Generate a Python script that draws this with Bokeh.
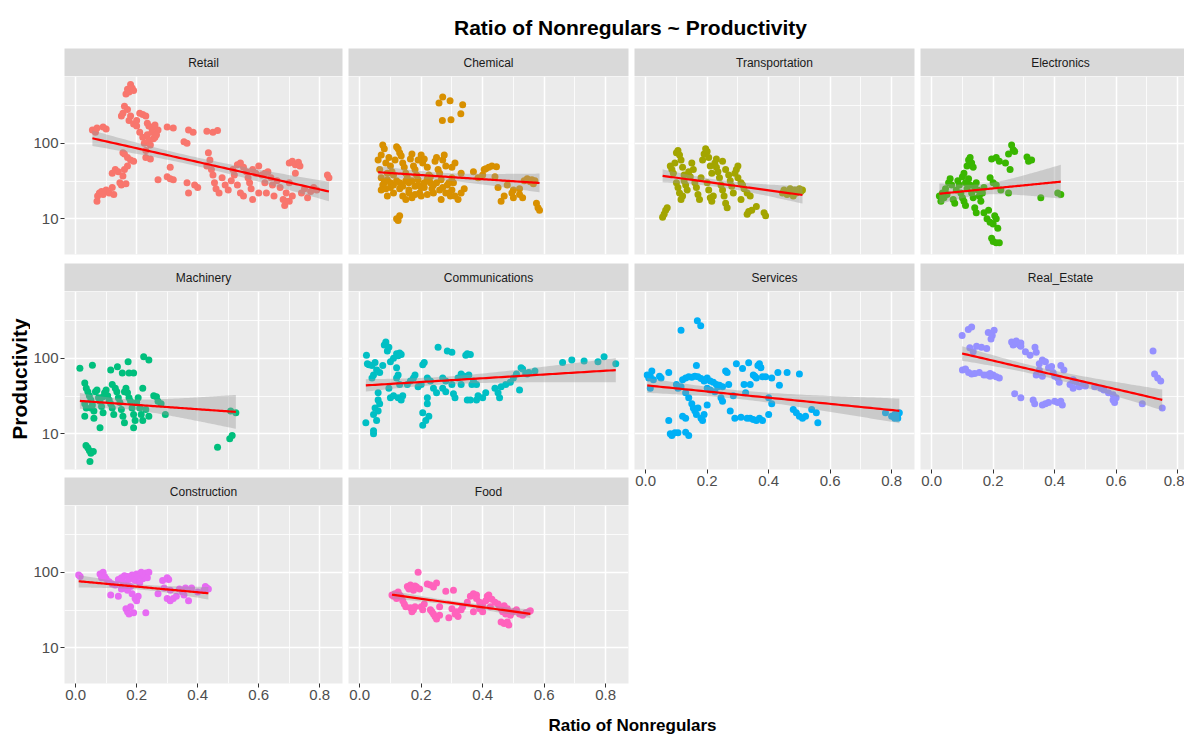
import math
import numpy as np
from bokeh.plotting import figure
from bokeh.layouts import row, column
from bokeh.models import FixedTicker, PrintfTickFormatter, Range1d, Grid
from bokeh.core.properties import value
from bokeh.embed import file_html
from bokeh.resources import INLINE

TITLE = "Ratio of Nonregulars ~ Productivity"
X_LABEL = "Ratio of Nonregulars"
Y_LABEL = "Productivity"

industries = ["Retail", "Chemical", "Transportation", "Electronics", "Machinery",
              "Communications", "Services", "Real_Estate", "Construction", "Food"]
colors = ["#F8766D", "#D89000", "#A3A500", "#39B600", "#00BF7D",
          "#00BFC4", "#00B0F6", "#9590FF", "#E76BF3", "#FF62BC"]
x_ticks = [0.0, 0.2, 0.4, 0.6, 0.8]
x_minor = [0.1, 0.3, 0.5, 0.7]
y_ticks = [10, 100]
y_minor = [31.62, 316.2]

# (ratio of nonregulars, productivity)
retail_points = [
    (0.055, 150), (0.065, 140), (0.07, 160), (0.09, 165), (0.1, 155),
    (0.07, 17), (0.072, 20), (0.078, 22), (0.085, 23), (0.09, 21), (0.1, 24), (0.11, 22), (0.12, 26), (0.125, 21),
    (0.12, 40), (0.13, 45), (0.14, 42), (0.145, 30), (0.15, 28), (0.16, 45), (0.165, 29), (0.17, 50), (0.155, 37),
    (0.155, 75), (0.16, 72), (0.17, 65), (0.18, 60), (0.19, 58),
    (0.165, 450), (0.17, 520), (0.175, 480), (0.18, 600), (0.185, 540), (0.19, 500),
    (0.15, 230), (0.155, 250), (0.16, 310), (0.17, 280), (0.175, 200), (0.18, 230), (0.19, 180), (0.2, 200), (0.2, 170),
    (0.21, 250), (0.22, 240), (0.23, 230), (0.235, 185), (0.24, 170), (0.25, 160), (0.26, 175), (0.27, 150),
    (0.21, 140), (0.22, 120), (0.225, 100), (0.23, 80), (0.235, 130), (0.24, 110), (0.245, 95), (0.25, 140),
    (0.255, 115), (0.26, 120), (0.265, 130), (0.23, 65), (0.245, 62),
    (0.27, 33), (0.3, 36), (0.31, 34), (0.32, 33), (0.3, 165), (0.32, 160), (0.31, 48),
    (0.355, 105), (0.365, 100), (0.37, 150), (0.385, 140), (0.43, 145), (0.45, 140), (0.465, 148),
    (0.365, 30), (0.37, 22), (0.39, 28), (0.4, 26),
    (0.435, 75), (0.44, 60), (0.445, 45), (0.45, 38), (0.455, 30), (0.46, 25), (0.47, 22), (0.48, 35),
    (0.49, 28), (0.5, 24), (0.51, 32), (0.515, 45), (0.52, 38), (0.43, 50),
    (0.53, 52), (0.54, 55), (0.55, 48), (0.56, 42), (0.565, 35), (0.57, 30), (0.575, 25), (0.58, 45),
    (0.59, 40), (0.6, 50), (0.61, 38), (0.62, 30), (0.625, 22), (0.63, 42), (0.64, 35), (0.645, 28),
    (0.65, 20), (0.66, 32), (0.67, 26), (0.68, 18), (0.69, 22), (0.7, 30), (0.55, 20), (0.6, 22),
    (0.58, 18), (0.62, 40), (0.53, 28), (0.54, 22),
    (0.7, 55), (0.71, 58), (0.72, 52), (0.73, 56), (0.735, 50), (0.72, 40),
    (0.7, 17), (0.71, 20), (0.74, 22), (0.75, 25), (0.77, 23), (0.78, 26), (0.79, 24), (0.76, 19),
    (0.825, 38), (0.83, 35), (0.685, 15), (0.69, 17),
]

chemical_points = [
    (0.258, 341), (0.27, 410), (0.294, 367), (0.335, 324), (0.329, 246), (0.269, 200), (0.297, 205),
    (0.06, 60), (0.065, 45), (0.07, 70), (0.075, 95), (0.08, 85), (0.085, 55), (0.09, 40), (0.095, 65),
    (0.07, 35), (0.075, 28), (0.08, 30), (0.085, 25), (0.09, 33), (0.1, 50), (0.105, 42), (0.11, 38),
    (0.115, 60), (0.12, 90), (0.125, 85), (0.13, 75), (0.135, 68), (0.14, 55), (0.145, 48), (0.15, 40),
    (0.155, 35), (0.16, 30), (0.165, 62), (0.17, 72), (0.175, 50), (0.18, 45), (0.185, 38), (0.19, 28),
    (0.195, 22), (0.2, 20), (0.13, 25), (0.14, 20), (0.15, 18), (0.16, 24), (0.12, 10), (0.125, 9.5),
    (0.13, 11), (0.205, 55), (0.21, 62), (0.22, 48), (0.225, 38), (0.23, 30), (0.235, 25), (0.24, 22),
    (0.245, 58), (0.25, 65), (0.255, 45), (0.26, 40), (0.265, 33), (0.27, 60), (0.28, 50), (0.285, 28),
    (0.29, 22), (0.295, 20), (0.3, 35), (0.305, 30), (0.31, 55), (0.3, 48), (0.275, 70), (0.2, 70),
    (0.19, 60), (0.1, 30), (0.11, 22), (0.17, 32), (0.18, 27), (0.21, 26), (0.22, 21), (0.26, 24), (0.265, 18),
    (0.07, 24), (0.09, 20), (0.1, 26), (0.11, 28), (0.12, 32), (0.13, 30), (0.14, 27), (0.15, 32),
    (0.16, 22), (0.17, 19), (0.18, 21), (0.19, 33), (0.2, 26), (0.21, 30), (0.22, 34), (0.23, 36),
    (0.24, 28), (0.25, 30), (0.27, 26), (0.28, 22), (0.3, 24), (0.31, 20), (0.29, 30),
    (0.33, 40), (0.37, 42), (0.385, 35), (0.4, 38), (0.405, 45), (0.41, 46), (0.42, 48), (0.43, 50),
    (0.445, 49), (0.44, 36), (0.48, 28), (0.5, 24), (0.495, 22), (0.47, 20), (0.5, 19), (0.52, 25),
    (0.535, 32), (0.545, 34), (0.555, 31), (0.56, 33), (0.565, 29), (0.57, 32), (0.575, 16), (0.58, 14),
    (0.585, 13), (0.33, 22), (0.34, 25), (0.32, 18), (0.52, 21), (0.53, 19), (0.46, 17), (0.45, 26),
]

transportation_points = [
    (0.055, 10.5), (0.06, 11.5), (0.065, 13), (0.07, 14), (0.08, 50), (0.085, 45), (0.09, 40), (0.095, 55),
    (0.1, 75), (0.105, 80), (0.11, 70), (0.115, 60), (0.12, 48), (0.125, 38), (0.1, 30), (0.105, 26),
    (0.11, 22), (0.115, 18), (0.12, 20), (0.125, 32), (0.13, 28), (0.135, 24), (0.14, 42), (0.145, 36),
    (0.15, 55), (0.155, 45), (0.16, 30), (0.165, 26), (0.17, 21), (0.175, 18), (0.18, 35), (0.185, 60),
    (0.19, 72), (0.195, 85), (0.2, 78), (0.205, 65), (0.21, 50), (0.215, 40), (0.2, 30), (0.205, 24),
    (0.21, 19), (0.215, 17), (0.22, 20), (0.225, 55), (0.23, 48), (0.235, 42), (0.24, 35), (0.245, 28),
    (0.25, 24), (0.255, 20), (0.26, 16), (0.265, 14), (0.23, 62), (0.25, 58), (0.26, 45), (0.27, 38),
    (0.275, 32), (0.28, 27), (0.285, 22), (0.29, 40), (0.3, 35), (0.31, 30), (0.315, 28), (0.32, 25),
    (0.33, 22), (0.34, 20), (0.31, 18), (0.295, 45), (0.3, 50), (0.33, 11.5), (0.335, 12.5), (0.345, 13),
    (0.36, 14.5), (0.385, 12), (0.39, 11),
    (0.445, 22), (0.45, 24), (0.46, 21), (0.47, 25), (0.475, 23), (0.48, 20), (0.485, 24), (0.49, 22),
    (0.5, 25), (0.505, 23), (0.51, 24),
]

electronics_points = [
    (0.025, 20), (0.03, 17), (0.035, 22), (0.04, 19), (0.045, 25), (0.05, 21), (0.055, 30), (0.06, 34),
    (0.065, 28), (0.07, 18), (0.075, 16), (0.08, 24), (0.085, 32), (0.09, 28), (0.095, 22), (0.1, 36),
    (0.105, 40), (0.11, 30), (0.1, 19), (0.105, 17), (0.11, 15), (0.115, 25), (0.12, 34), (0.125, 28),
    (0.13, 22), (0.135, 19), (0.14, 14), (0.145, 12), (0.115, 50), (0.12, 60), (0.125, 65), (0.13, 55),
    (0.135, 48), (0.14, 26), (0.145, 30), (0.15, 24), (0.155, 20), (0.16, 17), (0.165, 22), (0.17, 26),
    (0.195, 62), (0.21, 65), (0.22, 58), (0.24, 55), (0.25, 72), (0.26, 95), (0.265, 82), (0.27, 78),
    (0.255, 45), (0.31, 66), (0.315, 58), (0.325, 60),
    (0.17, 12), (0.18, 10), (0.19, 9), (0.2, 8.5), (0.205, 11), (0.21, 10), (0.215, 7.5), (0.195, 5.5),
    (0.2, 5.0), (0.21, 4.8), (0.22, 4.8), (0.185, 13),
    (0.2, 30), (0.21, 28), (0.225, 24), (0.25, 22), (0.19, 35),
    (0.355, 19), (0.41, 22), (0.42, 21),
]

machinery_points = [
    (0.014, 74), (0.055, 81), (0.03, 47), (0.035, 40), (0.04, 36), (0.045, 32), (0.03, 25), (0.035, 22),
    (0.03, 17), (0.05, 28), (0.055, 24), (0.06, 20), (0.065, 36), (0.07, 38), (0.075, 30), (0.08, 27),
    (0.085, 23), (0.09, 19), (0.08, 12), (0.095, 35), (0.1, 38), (0.105, 32), (0.11, 28), (0.115, 25),
    (0.12, 22), (0.125, 18), (0.115, 70), (0.137, 77), (0.153, 64), (0.175, 64), (0.19, 64), (0.172, 90),
    (0.223, 105), (0.24, 95), (0.13, 40), (0.135, 36), (0.14, 30), (0.145, 26), (0.15, 21), (0.155, 17),
    (0.16, 14), (0.165, 40), (0.17, 35), (0.175, 30), (0.18, 27), (0.185, 22), (0.19, 18), (0.195, 15),
    (0.2, 26), (0.205, 30), (0.21, 22), (0.215, 18), (0.22, 15), (0.19, 12), (0.23, 21), (0.24, 17),
    (0.256, 32), (0.265, 31), (0.27, 27), (0.28, 25), (0.294, 18), (0.22, 40), (0.16, 36), (0.09, 31),
    (0.05, 22), (0.12, 45), (0.06, 16),
    (0.034, 7), (0.04, 6.5), (0.045, 6), (0.05, 5.5), (0.058, 5.8), (0.047, 4.3),
    (0.465, 6.6), (0.505, 8.6), (0.513, 9.5), (0.508, 20), (0.525, 19),
]

communications_points = [
    (0.022, 110), (0.025, 85), (0.03, 82), (0.04, 80), (0.045, 60), (0.04, 55), (0.05, 88), (0.055, 70),
    (0.065, 65), (0.075, 80), (0.08, 150), (0.085, 165), (0.09, 125), (0.095, 140), (0.1, 90), (0.11, 100),
    (0.12, 115), (0.125, 108), (0.13, 118), (0.135, 112), (0.12, 75), (0.125, 60), (0.12, 55), (0.13, 45),
    (0.095, 40), (0.1, 30), (0.11, 32), (0.125, 30), (0.135, 28), (0.14, 32), (0.06, 35), (0.06, 28),
    (0.05, 22), (0.045, 18), (0.055, 15), (0.02, 14), (0.045, 11), (0.045, 10), (0.06, 20), (0.065, 25),
    (0.155, 45), (0.165, 50), (0.175, 55), (0.18, 60), (0.19, 42), (0.2, 45), (0.205, 82), (0.21, 88),
    (0.22, 55), (0.23, 50), (0.24, 40), (0.22, 30), (0.22, 25), (0.205, 19), (0.205, 13), (0.215, 15),
    (0.225, 17), (0.25, 35), (0.255, 140), (0.27, 40), (0.27, 55), (0.28, 50), (0.28, 36), (0.285, 125),
    (0.3, 120), (0.3, 45), (0.305, 34), (0.31, 30), (0.32, 55), (0.33, 45), (0.345, 110), (0.35, 115),
    (0.36, 112), (0.33, 62), (0.34, 58), (0.355, 60), (0.365, 45), (0.37, 50), (0.38, 45), (0.35, 28),
    (0.36, 28), (0.38, 28), (0.385, 32), (0.4, 30), (0.41, 35),
    (0.44, 40), (0.45, 35), (0.455, 30), (0.46, 42), (0.475, 45), (0.49, 48), (0.5, 55), (0.51, 62),
    (0.52, 38), (0.525, 75), (0.53, 72), (0.54, 63), (0.545, 62), (0.55, 65), (0.57, 68), (0.66, 88),
    (0.69, 95), (0.73, 92), (0.775, 90), (0.795, 105), (0.833, 85),
]

services_points = [
    (0.005, 60), (0.01, 55), (0.015, 58), (0.02, 68), (0.025, 52), (0.045, 58), (0.05, 55), (0.075, 65),
    (0.015, 40), (0.1, 45), (0.105, 40), (0.115, 42), (0.12, 52), (0.13, 55), (0.14, 57), (0.15, 56),
    (0.16, 58), (0.17, 57), (0.18, 54), (0.19, 50), (0.2, 55), (0.21, 50), (0.22, 48), (0.23, 45),
    (0.24, 44), (0.25, 42), (0.165, 80), (0.115, 236), (0.168, 315), (0.179, 270),
    (0.13, 35), (0.14, 30), (0.15, 25), (0.155, 22), (0.16, 20), (0.165, 18), (0.17, 22), (0.18, 16),
    (0.185, 15), (0.19, 18), (0.2, 24), (0.075, 15), (0.12, 17), (0.13, 16), (0.08, 10), (0.085, 9.5),
    (0.095, 10.3), (0.105, 10.3), (0.13, 10.5), (0.14, 9.5),
    (0.2, 40), (0.21, 38), (0.225, 36), (0.235, 42), (0.245, 30), (0.25, 27), (0.26, 68), (0.265, 65),
    (0.27, 45), (0.275, 20), (0.285, 32), (0.295, 85), (0.315, 73), (0.32, 45), (0.325, 35), (0.335, 87),
    (0.34, 45), (0.35, 60), (0.355, 58), (0.36, 55), (0.365, 80), (0.37, 85), (0.375, 75), (0.38, 57),
    (0.39, 57), (0.4, 30), (0.41, 25), (0.33, 16), (0.34, 16), (0.35, 15.5), (0.36, 15), (0.37, 16),
    (0.38, 15), (0.29, 16), (0.31, 16.5), (0.4, 18),
    (0.41, 55), (0.43, 65), (0.435, 44), (0.46, 65), (0.5, 62), (0.48, 21), (0.49, 19), (0.5, 17),
    (0.51, 16), (0.52, 17), (0.54, 21), (0.555, 19), (0.56, 14),
    (0.78, 19), (0.8, 17), (0.81, 16), (0.815, 17.5), (0.82, 18), (0.825, 19), (0.82, 16), (0.81, 18),
]

real_estate_points = [
    (0.099, 200), (0.119, 240), (0.13, 260), (0.124, 138), (0.146, 145), (0.135, 122), (0.162, 140),
    (0.179, 135), (0.184, 220), (0.193, 180), (0.203, 235), (0.197, 200),
    (0.1, 70), (0.11, 72), (0.12, 65), (0.13, 62), (0.14, 63), (0.155, 65), (0.17, 60), (0.18, 60),
    (0.19, 58), (0.2, 60), (0.21, 57), (0.22, 55), (0.19, 63),
    (0.26, 165), (0.265, 150), (0.27, 155), (0.275, 170), (0.28, 160), (0.285, 150), (0.29, 160), (0.29, 145),
    (0.305, 122), (0.32, 110), (0.336, 140), (0.34, 120),
    (0.27, 34), (0.29, 30), (0.33, 28), (0.335, 25), (0.36, 24), (0.37, 25), (0.38, 26), (0.4, 27),
    (0.41, 26), (0.42, 27), (0.425, 24),
    (0.34, 60), (0.35, 85), (0.36, 95), (0.37, 90), (0.38, 75), (0.39, 78), (0.395, 65), (0.4, 58),
    (0.41, 55), (0.42, 80), (0.43, 70), (0.415, 48), (0.35, 70), (0.36, 58),
    (0.45, 45), (0.46, 52), (0.47, 48), (0.48, 42), (0.49, 44), (0.5, 43), (0.46, 40),
    (0.53, 42), (0.55, 40), (0.56, 38), (0.575, 35), (0.59, 33), (0.59, 28), (0.595, 26), (0.6, 30),
    (0.685, 25), (0.72, 125), (0.725, 62), (0.735, 55), (0.745, 50), (0.75, 22),
]

construction_points = [
    (0.01, 92), (0.015, 88), (0.08, 95), (0.09, 100), (0.085, 85), (0.095, 88), (0.1, 82),
    (0.11, 75), (0.12, 70), (0.13, 68), (0.115, 50), (0.14, 48),
    (0.14, 80), (0.15, 85), (0.155, 75), (0.16, 90), (0.165, 70), (0.17, 88), (0.175, 80), (0.18, 65),
    (0.185, 92), (0.19, 85), (0.195, 78), (0.2, 95), (0.205, 88), (0.21, 72), (0.215, 100), (0.22, 82),
    (0.225, 90), (0.23, 98), (0.235, 85), (0.24, 100), (0.16, 62), (0.17, 58), (0.15, 60),
    (0.165, 33), (0.17, 30), (0.175, 28), (0.18, 35), (0.185, 52), (0.195, 45), (0.2, 42), (0.205, 48),
    (0.19, 29), (0.23, 29),
    (0.27, 52), (0.285, 78), (0.29, 62), (0.3, 85), (0.305, 80), (0.31, 58), (0.3, 45), (0.31, 42),
    (0.32, 45), (0.33, 48),
    (0.34, 60), (0.35, 55), (0.355, 50), (0.36, 62), (0.37, 42), (0.38, 62), (0.4, 55), (0.42, 58),
    (0.425, 65), (0.43, 62), (0.435, 60),
]

food_points = [
    (0.105, 50), (0.11, 48), (0.115, 52), (0.12, 45), (0.125, 55), (0.13, 50), (0.135, 47), (0.14, 42),
    (0.145, 38), (0.15, 35), (0.155, 65), (0.16, 60), (0.165, 68), (0.17, 62), (0.175, 58), (0.18, 66),
    (0.185, 64), (0.19, 100), (0.195, 60), (0.2, 35), (0.205, 32), (0.21, 38), (0.165, 34), (0.17, 30),
    (0.175, 32), (0.18, 35), (0.22, 70), (0.23, 68), (0.24, 64), (0.25, 72), (0.23, 32), (0.235, 30),
    (0.24, 28), (0.245, 26), (0.25, 24), (0.26, 27), (0.26, 35), (0.28, 56), (0.29, 25), (0.305, 58),
    (0.3, 33), (0.31, 28), (0.315, 30), (0.32, 26), (0.33, 32), (0.335, 35),
    (0.36, 48), (0.37, 52), (0.38, 50), (0.38, 45), (0.39, 40), (0.4, 38), (0.41, 42), (0.415, 48),
    (0.42, 50), (0.425, 35), (0.43, 44), (0.44, 40), (0.45, 38), (0.455, 35), (0.46, 33), (0.465, 30),
    (0.47, 36), (0.475, 28), (0.48, 33), (0.485, 30), (0.49, 27), (0.46, 22), (0.47, 21), (0.48, 22),
    (0.485, 20), (0.5, 30), (0.51, 32), (0.52, 28), (0.53, 27), (0.54, 29), (0.55, 30), (0.555, 31),
    (0.37, 30), (0.39, 33), (0.4, 30), (0.35, 40),
]

panel_data = [retail_points, chemical_points, transportation_points, electronics_points,
              machinery_points, communications_points, services_points, real_estate_points,
              construction_points, food_points]

# ---------------------------------------------------------------- layout / style
FONT = "Liberation Sans"
PANEL_BG = "#EBEBEB"
STRIP_BG = "#D9D9D9"
TOTAL_W = 1184
YLAB_W = 30
FRAME_W = 280
FRAME_H = 178
STRIP_H = 28
LEFT_AXIS = 32
GAP = 6
NCOL = 4
LAST_W = TOTAL_W - YLAB_W - LEFT_AXIS - 3 * (FRAME_W + GAP)   # right column cut by the edge
ROW_GAPS = [9, 8]
AXIS_H = 26
TITLE_H = 48
XLAB_H = 25

# shared scales (ggplot: range of all data + 5% expansion)
all_x = [pt[0] for pts in panel_data for pt in pts]
all_y = [math.log10(pt[1]) for pts in panel_data for pt in pts]
xpad = 0.05 * (max(all_x) - min(all_x))
X_START, X_END = min(all_x) - xpad, max(all_x) + xpad
ypad = 0.05 * (max(all_y) - min(all_y))
Y_START, Y_END = 10 ** (min(all_y) - ypad), 10 ** (max(all_y) + ypad)

n = len(industries)
bottom_of_col = {}
for i in range(n):
    bottom_of_col[i % NCOL] = i


def col_geom(col):
    left = LEFT_AXIS if col == 0 else 0
    right = GAP if col < NCOL - 1 else 0
    fw = FRAME_W if col < NCOL - 1 else LAST_W
    return left, right, fw


def style_axis(ax):
    ax.axis_line_color = None
    ax.major_tick_line_color = "#333333"
    ax.major_tick_out = 4
    ax.major_tick_in = 0
    ax.minor_tick_line_color = None
    ax.major_label_text_font = FONT
    ax.major_label_text_font_size = "15px"
    ax.major_label_text_color = "#4D4D4D"
    ax.major_label_standoff = 2


def bare_figure(w, h, **kw):
    f = figure(width=w, height=h, output_backend="svg", toolbar_location=None,
               x_axis_location=None, y_axis_location=None,
               min_border_top=0, min_border_bottom=0,
               border_fill_color="white", outline_line_color=None, **kw)
    f.grid.visible = False
    return f


def make_strip(name, col):
    left, right, fw = col_geom(col)
    s = bare_figure(left + fw + right, STRIP_H,
                    x_range=Range1d(0, fw / FRAME_W), y_range=Range1d(0, 1),
                    min_border_left=left, min_border_right=right,
                    background_fill_color=STRIP_BG)
    s.text(x=[0.5], y=[0.5], text=[name], text_align="center", text_baseline="middle",
           text_font=value(FONT), text_font_size="12px", text_color="#1A1A1A")
    return s


def make_panel(i, row_idx):
    name, color, pts = industries[i], colors[i], panel_data[i]
    col = i % NCOL
    has_x = bottom_of_col[col] == i
    left, right, fw = col_geom(col)
    bottom = AXIS_H if has_x else ROW_GAPS[row_idx]
    x_end = X_START + (X_END - X_START) * fw / FRAME_W
    p = figure(width=left + fw + right, height=FRAME_H + bottom, output_backend="svg",
               toolbar_location=None, y_axis_type="log",
               x_range=Range1d(X_START, x_end), y_range=Range1d(Y_START, Y_END),
               x_axis_location="below" if has_x else None,
               y_axis_location="left" if col == 0 else None,
               min_border_left=left, min_border_right=right, min_border_top=0,
               min_border_bottom=bottom, background_fill_color=PANEL_BG,
               border_fill_color="white", outline_line_color=None)
    p.grid.visible = False
    p.add_layout(Grid(dimension=0, ticker=FixedTicker(ticks=x_ticks, minor_ticks=x_minor),
                      grid_line_color="white", grid_line_width=1.5,
                      minor_grid_line_color="white", minor_grid_line_width=0.8))
    p.add_layout(Grid(dimension=1, ticker=FixedTicker(ticks=y_ticks, minor_ticks=y_minor),
                      grid_line_color="white", grid_line_width=1.5,
                      minor_grid_line_color="white", minor_grid_line_width=0.8))
    if has_x:
        ax = p.xaxis[0]
        ax.ticker = FixedTicker(ticks=x_ticks)
        ax.formatter = PrintfTickFormatter(format="%.1f")
        style_axis(ax)
    if col == 0:
        ay = p.yaxis[0]
        ay.ticker = FixedTicker(ticks=y_ticks)
        ay.formatter = PrintfTickFormatter(format="%d")
        style_axis(ay)

    xs = np.array([pt[0] for pt in pts])
    ys = np.array([pt[1] for pt in pts])
    p.scatter(xs, ys, size=7, fill_color=color, line_color=None)

    # geom_smooth(method = "lm") on the log10 scale, with 95% band
    ly = np.log10(ys)
    b, a = np.polyfit(xs, ly, 1)
    resid = ly - (a + b * xs)
    k = len(xs)
    s_err = math.sqrt(float(np.sum(resid ** 2)) / (k - 2))
    sxx = float(np.sum((xs - xs.mean()) ** 2))
    gx = np.linspace(xs.min(), xs.max(), 80)
    fit = a + b * gx
    se = s_err * np.sqrt(1.0 / k + (gx - xs.mean()) ** 2 / sxx)
    p.varea(x=gx, y1=10 ** (fit - 1.98 * se), y2=10 ** (fit + 1.98 * se),
            fill_color="#999999", fill_alpha=0.4)
    p.line(gx, 10 ** fit, line_color="#FF0000", line_width=2.2)
    return p


columns_ = []
for col in range(NCOL):
    items = []
    for r, i in enumerate(range(col, n, NCOL)):
        items.append(make_strip(industries[i], col))
        items.append(make_panel(i, r))
    columns_.append(column(items, spacing=0))

block_h = 0
for r, i in enumerate(range(0, n, NCOL)):
    block_h += STRIP_H + FRAME_H + (AXIS_H if bottom_of_col[0] == i else ROW_GAPS[r])

ylab = bare_figure(YLAB_W, block_h, x_range=Range1d(0, 1), y_range=Range1d(0, 1),
                   min_border_left=0, min_border_right=0, background_fill_color="white")
ylab.text(x=[0.62], y=[0.5], text=[Y_LABEL], angle=math.pi / 2, text_align="center",
          text_baseline="middle", text_font=value(FONT), text_font_style="bold",
          text_font_size="21px", text_color="black")

title_fig = bare_figure(TOTAL_W, TITLE_H, x_range=Range1d(0, TOTAL_W), y_range=Range1d(0, TITLE_H),
                        min_border_left=0, min_border_right=0, background_fill_color="white")
title_fig.text(x=[630], y=[TITLE_H - 27], text=[TITLE], text_align="center", text_baseline="middle",
               text_font=value(FONT), text_font_style="bold", text_font_size="21px",
               text_color="black")

xlab_fig = bare_figure(TOTAL_W, XLAB_H, x_range=Range1d(0, TOTAL_W), y_range=Range1d(0, XLAB_H),
                       min_border_left=0, min_border_right=0, background_fill_color="white")
xlab_fig.text(x=[632], y=[XLAB_H - 16], text=[X_LABEL], text_align="center", text_baseline="middle",
              text_font=value(FONT), text_font_style="bold", text_font_size="17px",
              text_color="black")

layout = column([title_fig, row([ylab] + columns_, spacing=0), xlab_fig], spacing=0)

open("out.html", "w").write(file_html(layout, INLINE))
